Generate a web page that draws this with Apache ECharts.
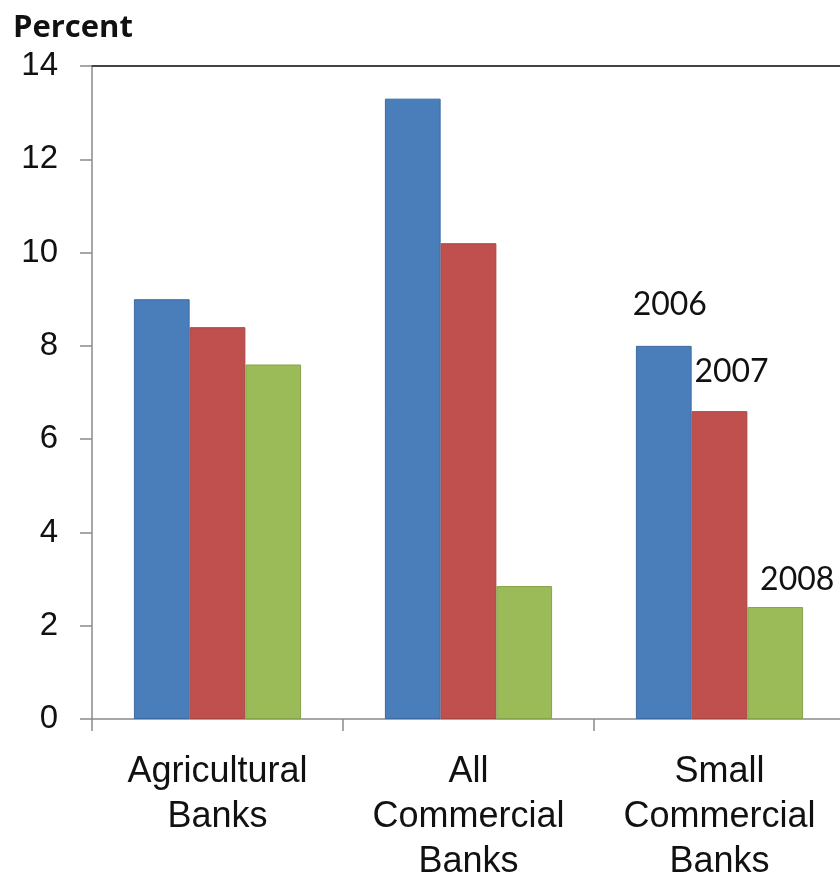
<!DOCTYPE html>
<html>
<head>
<meta charset="utf-8">
<script src="https://cdn.jsdelivr.net/npm/echarts@6/dist/echarts.min.js"></script>
<style>
  html, body { margin: 0; padding: 0; background: #fff; }
  #chart { width: 840px; height: 872px; }
</style>
</head>
<body>
<div id="chart"></div>
<script>
// Bank groups and yearly percentages
const categories = ['Agricultural\nBanks', 'All\nCommercial\nBanks', 'Small\nCommercial\nBanks'];
const years = ['2006', '2007', '2008'];
const values2006 = [9.0, 13.3, 8.0];
const values2007 = [8.4, 10.2, 6.6];
const values2008 = [7.6, 2.85, 2.4];
const yTicks = [0, 2, 4, 6, 8, 10, 12, 14];

const colors = ['#4a7ebb', '#c0504d', '#9bbb59'];
const borders = ['#3d6aa0', '#a84441', '#86a34a'];
// Year labels sit next to the Small Commercial Banks bars
const labelOffsets = [[6, -20], [12, -18], [22, -6]];

function makeSeries(name, data, i) {
  return {
    name: name,
    type: 'bar',
    data: data.map((v, j) => {
      const item = { value: v };
      if (j === 2) {
        item.label = {
          show: true,
          position: 'top',
          offset: labelOffsets[i],
          formatter: name,
          fontFamily: 'Lato, "Open Sans", sans-serif',
          fontSize: 32,
          color: '#111'
        };
      }
      return item;
    }),
    barWidth: '22.2%',
    barGap: '0%',
    itemStyle: { color: colors[i], borderColor: borders[i], borderWidth: 1 },
    emphasis: { disabled: true }
  };
}

const chart = echarts.init(document.getElementById('chart'), null, { renderer: 'canvas' });
chart.setOption({
  animation: false,
  title: {
    text: 'Percent',
    left: 8,
    top: 8,
    textStyle: { fontFamily: '"Open Sans", sans-serif', fontWeight: 'bold', fontSize: 31, color: '#111' }
  },
  grid: { left: 92, right: -5, top: 66, bottom: 153, outerBoundsMode: 'none', containLabel: false },
  xAxis: [
    {
      type: 'category',
      data: categories,
      axisLine: { lineStyle: { color: '#8a8a8a', width: 1.5 } },
      axisTick: { show: true, length: 12, lineStyle: { color: '#8a8a8a', width: 1.5 } },
      axisLabel: {
        margin: 31,
        fontFamily: 'Arial, "Liberation Sans", sans-serif',
        fontSize: 36,
        lineHeight: 45,
        color: '#111'
      }
    },
    {
      type: 'category',
      position: 'top',
      data: categories,
      axisLine: { show: true, lineStyle: { color: '#444', width: 2 } },
      axisTick: { show: false },
      axisLabel: { show: false }
    }
  ],
  yAxis: {
    type: 'value',
    min: 0,
    max: 14,
    interval: 2,
    axisLine: { show: true, lineStyle: { color: '#8a8a8a', width: 1.5 } },
    axisTick: { show: true, length: 12, lineStyle: { color: '#8a8a8a', width: 1.5 } },
    splitLine: { show: false },
    axisLabel: {
      margin: 34,
      fontFamily: 'Arial, "Liberation Sans", sans-serif',
      fontSize: 33,
      color: '#111',
      formatter: v => yTicks.includes(v) ? String(v) : ''
    }
  },
  series: [
    makeSeries(years[0], values2006, 0),
    makeSeries(years[1], values2007, 1),
    makeSeries(years[2], values2008, 2)
  ]
});
</script>
</body>
</html>
